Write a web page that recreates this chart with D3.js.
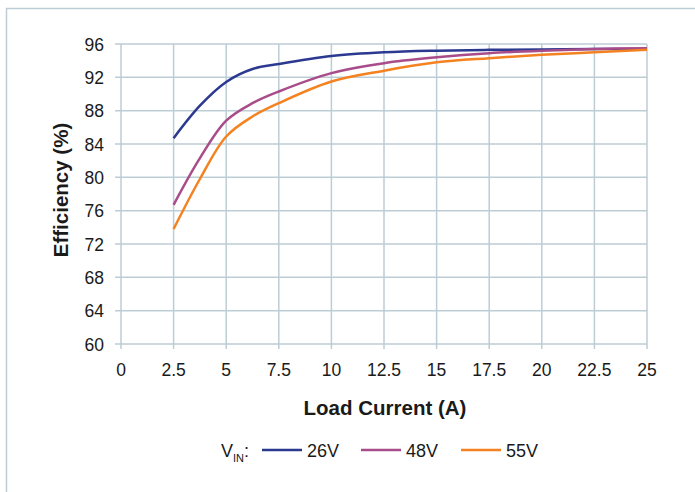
<!DOCTYPE html>
<html>
<head>
<meta charset="utf-8">
<script src="https://cdn.jsdelivr.net/npm/d3@7"></script>
<style>
  body { margin: 0; background: #fff; }
  text { font-family: "Liberation Sans", Arial, sans-serif; fill: #1a1a1a; }
</style>
</head>
<body>
<div id="chart"></div>
<script>
const loadCurrent = [2.5, 3.75, 5, 6.25, 7.5, 10, 12.5, 15, 17.5, 20, 22.5, 25];
const eff26V = [84.7, 88.6, 91.45, 93.0, 93.6, 94.55, 95.0, 95.2, 95.3, 95.35, 95.4, 95.4];
const eff48V = [76.7, 82.3, 86.8, 88.9, 90.3, 92.5, 93.7, 94.4, 94.9, 95.2, 95.4, 95.5];
const eff55V = [73.8, 79.8, 84.9, 87.3, 88.9, 91.5, 92.8, 93.8, 94.3, 94.7, 95.0, 95.3];
const seriesNames = ["26V", "48V", "55V"];
const seriesColors = ["#2b3990", "#a94d8a", "#f58220"];
const xTicks = [0, 2.5, 5, 7.5, 10, 12.5, 15, 17.5, 20, 22.5, 25];
const yTicks = [60, 64, 68, 72, 76, 80, 84, 88, 92, 96];

const W = 695, H = 492;
const margin = {left: 121, top: 44, right: 48, bottom: 148};
const gridColor = "#bccdd5";

const svg = d3.select("#chart").append("svg")
    .attr("width", W)
    .attr("height", H);

// outer frame (only top and left edges show)
svg.append("path")
    .attr("d", "M6.5," + H + " L6.5,8.5 L" + W + ",8.5")
    .attr("fill", "none")
    .attr("stroke", gridColor)
    .attr("stroke-width", 1.5);

const x = d3.scaleLinear().domain([0, 25]).range([margin.left, W - margin.right]);
const y = d3.scaleLinear().domain([60, 96]).range([H - margin.bottom, margin.top]);

// grid
svg.append("g")
    .selectAll("line")
    .data(xTicks)
    .join("line")
    .attr("x1", d => x(d)).attr("x2", d => x(d))
    .attr("y1", y(96)).attr("y2", y(60) + 5)
    .attr("stroke", gridColor)
    .attr("stroke-width", 1.5);

svg.append("g")
    .selectAll("line")
    .data(yTicks)
    .join("line")
    .attr("x1", x(0) - 6).attr("x2", x(25))
    .attr("y1", d => y(d)).attr("y2", d => y(d))
    .attr("stroke", gridColor)
    .attr("stroke-width", 1.5);

// tick labels
svg.append("g")
    .selectAll("text")
    .data(yTicks)
    .join("text")
    .attr("x", x(0) - 17)
    .attr("y", d => y(d) + 6.5)
    .attr("text-anchor", "end")
    .style("font-size", "17.5px")
    .text(d => d);

svg.append("g")
    .selectAll("text")
    .data(xTicks)
    .join("text")
    .attr("x", d => x(d))
    .attr("y", y(60) + 32)
    .attr("text-anchor", "middle")
    .style("font-size", "17.5px")
    .text(d => d);

// axis titles
svg.append("text")
    .attr("x", x(12.5) + 1)
    .attr("y", 415)
    .attr("text-anchor", "middle")
    .attr("font-weight", "bold")
    .style("font-size", "20.5px")
    .text("Load Current (A)");

svg.append("text")
    .attr("transform", "translate(68,190) rotate(-90)")
    .attr("text-anchor", "middle")
    .attr("font-weight", "bold")
    .style("font-size", "20.5px")
    .text("Efficiency (%)");

// curves
const series = [eff26V, eff48V, eff55V];
const line = d3.line()
    .x((d, i) => x(loadCurrent[i]))
    .y(d => y(d))
    .curve(d3.curveCatmullRom.alpha(0.5));

svg.append("g")
    .selectAll("path")
    .data(series)
    .join("path")
    .attr("d", d => line(d))
    .attr("fill", "none")
    .attr("stroke", (d, i) => seriesColors[i])
    .attr("stroke-width", 2.5);

// legend
const legY = 450;
const vin = svg.append("text")
    .attr("x", 221)
    .attr("y", legY + 7)
    .style("font-size", "18px");
vin.append("tspan").text("V");
vin.append("tspan").attr("dy", 5).style("font-size", "11px").text("IN");
vin.append("tspan").attr("dy", -5).text(":");

const legX = [262, 361, 461];
const leg = svg.append("g")
    .selectAll("g")
    .data(seriesNames)
    .join("g")
    .attr("transform", (d, i) => "translate(" + legX[i] + "," + legY + ")");

leg.append("line")
    .attr("x1", 0).attr("x2", 40)
    .attr("stroke", (d, i) => seriesColors[i])
    .attr("stroke-width", 2.5);

leg.append("text")
    .attr("x", 45)
    .attr("y", 7)
    .style("font-size", "18px")
    .text(d => d);
</script>
</body>
</html>
